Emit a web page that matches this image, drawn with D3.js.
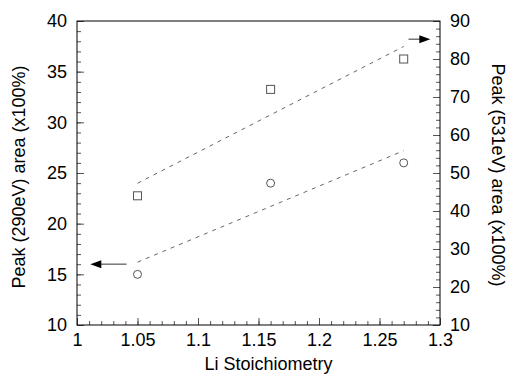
<!DOCTYPE html>
<html>
<head>
<meta charset="utf-8">
<script src="https://cdn.jsdelivr.net/npm/d3@7"></script>
<style>
  body { margin: 0; background: #fff; }
  text { font-family: "Liberation Sans", Arial, sans-serif; fill: #000; }
  .tick line { stroke: #555; }
  .domain { display: none; }
</style>
</head>
<body>
<div id="chart"></div>
<script>
// Li stoichiometry (x) and peak areas
var stoich = [1.05, 1.16, 1.27];
var peak290 = [15, 24, 26];      // circles, left axis
var peak531 = [44, 72, 80];      // squares, right axis

// dashed fit lines (end points)
var fitX = [1.05, 1.27];
var fit290 = [16.2, 27.2];
var fit531 = [47.3, 83.3];

// arrows telling which axis belongs to which series
var arrow290X = [1.041, 1.011], arrow290Y = 16;
var arrow531X = [1.274, 1.292], arrow531Y = 85.2;

var xTicks = [1, 1.05, 1.1, 1.15, 1.2, 1.25, 1.3];
var leftTicks = [10, 15, 20, 25, 30, 35, 40];
var rightTicks = [10, 20, 30, 40, 50, 60, 70, 80, 90];

var W = 508, H = 375;
var margin = {top: 21, right: 68, bottom: 50, left: 77},
    width = W - margin.left - margin.right,
    height = H - margin.top - margin.bottom;

var svg = d3.select("#chart").append("svg")
    .attr("width", W)
    .attr("height", H)
  .append("g")
    .attr("transform", "translate(" + margin.left + "," + margin.top + ")");

var x = d3.scaleLinear().domain([1, 1.3]).range([0, width]);
var yL = d3.scaleLinear().domain([10, 40]).range([height, 0]);
var yR = d3.scaleLinear().domain([10, 90]).range([height, 0]);

// minor ticks
svg.append("g").attr("transform", "translate(0," + height + ")")
    .call(d3.axisBottom(x).tickValues(d3.range(100, 131).map(function(d){ return d / 100; }))
      .tickSize(-4).tickFormat(""));
svg.append("g")
    .call(d3.axisLeft(yL).tickValues(d3.range(10, 41)).tickSize(-4).tickFormat(""));
svg.append("g").attr("transform", "translate(" + width + ",0)")
    .call(d3.axisRight(yR).tickValues(d3.range(10, 91, 2)).tickSize(-4).tickFormat(""));

// major ticks + labels
svg.append("g").attr("class", "x axis")
    .attr("transform", "translate(0," + height + ")")
    .call(d3.axisBottom(x).tickValues(xTicks).tickSize(-7).tickPadding(8)
      .tickFormat(function(d){ return d3.format("")(+d.toFixed(2)); }))
    .selectAll("text").style("font-size", "18px").attr("font-family", null);

svg.append("g").attr("class", "y axis")
    .call(d3.axisLeft(yL).tickValues(leftTicks).tickSize(-7).tickPadding(10))
    .selectAll("text").style("font-size", "18px").attr("font-family", null);

svg.append("g").attr("class", "y axis")
    .attr("transform", "translate(" + width + ",0)")
    .call(d3.axisRight(yR).tickValues(rightTicks).tickSize(-7).tickPadding(10))
    .selectAll("text").style("font-size", "18px").attr("font-family", null);

// frame
svg.append("rect")
    .attr("width", width).attr("height", height)
    .attr("fill", "none").attr("stroke", "#000").attr("stroke-width", 1);

// fit lines
function dashed(yScale, ys) {
  svg.append("line")
      .attr("x1", x(fitX[0])).attr("y1", yScale(ys[0]))
      .attr("x2", x(fitX[1])).attr("y2", yScale(ys[1]))
      .attr("stroke", "#666").attr("stroke-width", 1)
      .attr("stroke-dasharray", "4,5");
}
dashed(yL, fit290);
dashed(yR, fit531);

// circles (left axis)
svg.selectAll(".dot")
    .data(stoich)
    .enter().append("circle")
    .attr("class", "dot")
    .attr("r", 4)
    .attr("cx", function(d) { return x(d); })
    .attr("cy", function(d, i) { return yL(peak290[i]); })
    .attr("fill", "#fff").attr("stroke", "#555");

// squares (right axis)
svg.selectAll(".sq")
    .data(stoich)
    .enter().append("rect")
    .attr("class", "sq")
    .attr("width", 8).attr("height", 8)
    .attr("x", function(d) { return x(d) - 4; })
    .attr("y", function(d, i) { return yR(peak531[i]) - 4; })
    .attr("fill", "#fff").attr("stroke", "#555");

// arrows
function arrow(xs, py) {
  var x0 = x(xs[0]), x1 = x(xs[1]);
  var dir = x1 > x0 ? 1 : -1;
  svg.append("line")
      .attr("x1", x0).attr("y1", py).attr("x2", x1 - dir * 9).attr("y2", py)
      .attr("stroke", "#777").attr("stroke-width", 1.5);
  svg.append("path")
      .attr("d", "M" + x1 + "," + py + "L" + (x1 - dir * 11) + "," + (py - 4) +
                 "L" + (x1 - dir * 11) + "," + (py + 4) + "Z")
      .attr("fill", "#000");
}
arrow(arrow290X, yL(arrow290Y));
arrow(arrow531X, yR(arrow531Y));

// axis titles
svg.append("text")
    .attr("x", width / 2 + 10).attr("y", height + 45)
    .style("text-anchor", "middle").style("font-size", "18px")
    .text("Li Stoichiometry");

svg.append("text")
    .attr("transform", "translate(" + (25 - margin.left) + "," + (height / 2 + 4) + ") rotate(-90)")
    .style("text-anchor", "middle").style("font-size", "18px")
    .text("Peak (290eV) area (x100%)");

svg.append("text")
    .attr("transform", "translate(" + (width + 52) + "," + (height / 2 + 2) + ") rotate(90)")
    .style("text-anchor", "middle").style("font-size", "18px")
    .text("Peak (531eV) area (x100%)");
</script>
</body>
</html>
